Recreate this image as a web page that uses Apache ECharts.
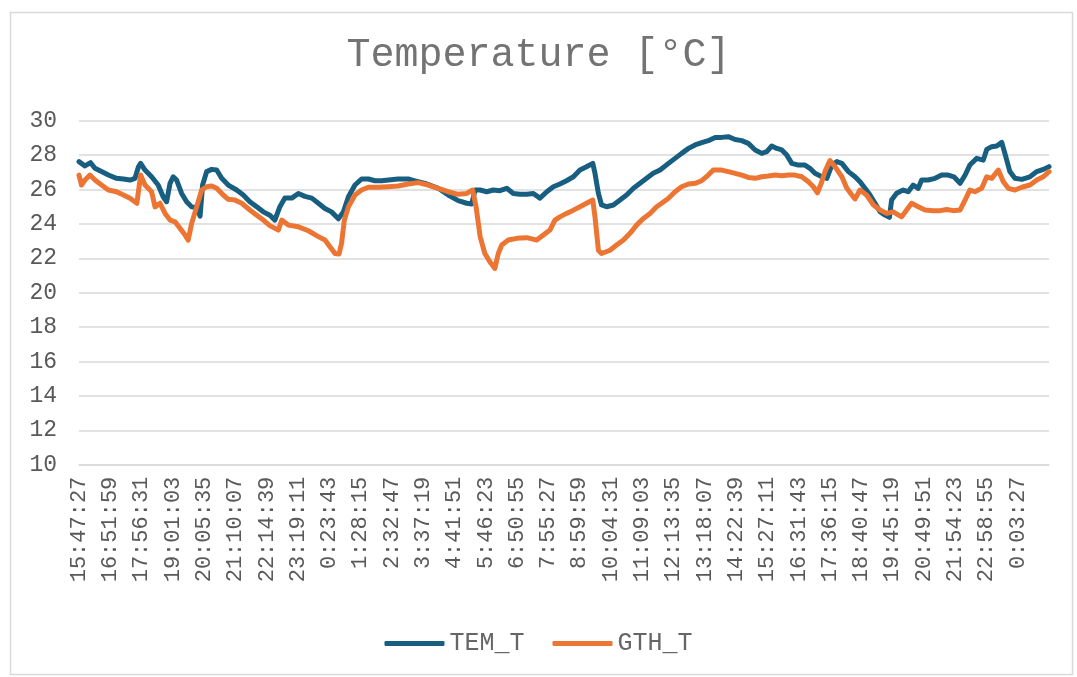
<!DOCTYPE html>
<html>
<head>
<meta charset="utf-8">
<script src="https://cdn.jsdelivr.net/npm/echarts@6/dist/echarts.min.js"></script>
<style>
html,body{margin:0;padding:0;background:#fff;}
#c{width:1077px;height:677px;}
</style>
</head>
<body>
<div id="c"></div>
<script>
// Tick labels (one every 1:04:32)
var tickLabels = ['15:47:27','16:51:59','17:56:31','19:01:03','20:05:35','21:10:07','22:14:39','23:19:11',
  '0:23:43','1:28:15','2:32:47','3:37:19','4:41:51','5:46:23','6:50:55','7:55:27','8:59:59','10:04:31',
  '11:09:03','12:13:35','13:18:07','14:22:39','15:27:11','16:31:43','17:36:15','18:40:47','19:45:19',
  '20:49:51','21:54:23','22:58:55','0:03:27'];

var seriesNames = ['TEM_T','GTH_T'];

// [position in tick intervals from 15:47:27, temperature]
var temT = [[0,27.62],[0.19,27.37],[0.37,27.56],[0.51,27.23],[0.72,27.04],[0.94,26.84],[1.20,26.65],[1.42,26.61],
[1.63,26.55],[1.79,26.65],[1.90,27.32],[1.97,27.52],[2.11,27.13],[2.32,26.74],[2.53,26.26],[2.69,25.58],[2.80,25.29],
[2.91,26.36],[3.01,26.74],[3.12,26.55],[3.28,25.77],[3.44,25.29],[3.60,24.99],[3.76,24.95],[3.87,24.45],[3.95,26.26],
[4.08,27.04],[4.24,27.17],[4.40,27.13],[4.56,26.65],[4.77,26.26],[5.04,25.97],[5.25,25.68],[5.46,25.29],[5.68,24.99],
[5.89,24.70],[6.10,24.50],[6.26,24.22],[6.42,25.0],[6.58,25.5],[6.80,25.5],[7.01,25.77],[7.22,25.6],[7.44,25.5],
[7.65,25.2],[7.86,24.9],[8.07,24.7],[8.29,24.3],[8.45,24.7],[8.61,25.58],[8.82,26.26],[9.03,26.61],[9.25,26.61],
[9.46,26.51],[9.67,26.51],[9.89,26.55],[10.20,26.61],[10.52,26.61],[10.74,26.5],[11.06,26.36],[11.48,26.07],
[11.80,25.68],[12.12,25.35],[12.39,25.2],[12.55,25.16],[12.66,25.97],[12.82,25.97],[13.03,25.87],[13.24,25.97],
[13.45,25.93],[13.67,26.07],[13.88,25.77],[14.09,25.73],[14.31,25.73],[14.52,25.77],[14.73,25.5],[14.95,25.87],
[15.16,26.16],[15.37,26.32],[15.58,26.51],[15.80,26.74],[16.01,27.13],[16.22,27.32],[16.42,27.52],[16.49,26.94],
[16.60,25.77],[16.70,25.1],[16.86,25.0],[17.08,25.1],[17.29,25.39],[17.50,25.68],[17.72,26.07],[17.93,26.36],
[18.14,26.65],[18.35,26.94],[18.57,27.13],[18.84,27.52],[19.05,27.81],[19.26,28.1],[19.48,28.39],[19.69,28.59],
[19.90,28.72],[20.11,28.84],[20.33,29.03],[20.54,29.03],[20.75,29.07],[20.97,28.91],[21.18,28.84],[21.39,28.68],
[21.61,28.3],[21.82,28.1],[21.98,28.2],[22.14,28.53],[22.30,28.39],[22.46,28.3],[22.62,28.0],[22.78,27.52],
[22.99,27.42],[23.20,27.42],[23.36,27.23],[23.52,26.94],[23.74,26.74],[23.90,26.65],[24.06,27.42],[24.22,27.62],
[24.38,27.52],[24.59,27.04],[24.80,26.74],[24.96,26.45],[25.12,26.07],[25.28,25.68],[25.44,25.2],[25.60,24.71],
[25.76,24.51],[25.90,24.38],[25.97,25.39],[26.13,25.78],[26.34,25.97],[26.50,25.87],[26.66,26.26],[26.82,26.07],
[26.93,26.55],[27.14,26.55],[27.36,26.65],[27.57,26.84],[27.78,26.84],[27.96,26.74],[28.16,26.36],[28.32,26.84],
[28.47,27.42],[28.69,27.81],[28.90,27.71],[29.01,28.33],[29.17,28.49],[29.33,28.53],[29.49,28.74],[29.59,28.1],
[29.75,27.04],[29.91,26.65],[30.13,26.59],[30.39,26.74],[30.61,27.04],[30.82,27.17],[31.0,27.33]];

var gthT = [[0,26.84],[0.08,26.26],[0.19,26.55],[0.35,26.84],[0.51,26.55],[0.72,26.26],[0.94,25.97],[1.20,25.87],
[1.42,25.68],[1.63,25.49],[1.85,25.20],[1.97,26.84],[2.11,26.26],[2.32,25.87],[2.43,24.99],[2.59,25.2],[2.75,24.61],
[2.91,24.22],[3.07,24.12],[3.23,23.74],[3.39,23.35],[3.49,23.06],[3.60,24.03],[3.76,24.99],[3.92,25.97],[4.08,26.16],
[4.24,26.2],[4.40,26.07],[4.61,25.68],[4.77,25.43],[4.98,25.39],[5.20,25.2],[5.46,24.81],[5.68,24.51],[5.89,24.22],
[6.10,23.9],[6.37,23.64],[6.48,24.22],[6.69,23.93],[7.01,23.83],[7.33,23.6],[7.65,23.26],[7.86,23.06],[8.02,22.67],
[8.18,22.28],[8.31,22.25],[8.39,22.86],[8.48,24.22],[8.61,24.99],[8.82,25.68],[9.03,25.97],[9.25,26.13],[9.57,26.13],
[9.89,26.16],[10.20,26.2],[10.52,26.32],[10.84,26.4],[11.16,26.26],[11.48,26.07],[11.80,25.87],[12.12,25.72],
[12.39,25.77],[12.58,25.97],[12.69,25.0],[12.82,23.26],[12.97,22.28],[13.13,21.8],[13.29,21.41],[13.40,22.28],
[13.51,22.77],[13.72,23.06],[13.99,23.16],[14.31,23.2],[14.63,23.06],[14.84,23.35],[15.05,23.64],[15.21,24.22],
[15.37,24.41],[15.58,24.61],[15.80,24.8],[16.01,25.0],[16.22,25.2],[16.42,25.39],[16.49,24.41],[16.60,22.47],
[16.70,22.28],[16.97,22.47],[17.18,22.77],[17.40,23.06],[17.61,23.45],[17.82,23.93],[18.04,24.32],[18.25,24.61],
[18.46,25.0],[18.62,25.2],[18.84,25.49],[19.05,25.87],[19.26,26.16],[19.48,26.32],[19.69,26.36],[19.90,26.51],
[20.11,26.84],[20.27,27.13],[20.54,27.13],[20.75,27.04],[20.97,26.94],[21.18,26.84],[21.39,26.7],[21.61,26.65],
[21.82,26.74],[22.03,26.78],[22.25,26.84],[22.46,26.8],[22.67,26.84],[22.88,26.84],[23.10,26.74],[23.31,26.45],
[23.47,26.16],[23.60,25.81],[23.74,26.45],[23.84,27.04],[24.00,27.68],[24.16,27.33],[24.38,26.74],[24.54,26.07],
[24.70,25.68],[24.80,25.45],[24.96,25.97],[25.17,25.68],[25.39,25.1],[25.60,24.81],[25.81,24.61],[26.02,24.7],
[26.29,24.41],[26.45,24.81],[26.61,25.2],[26.82,25.0],[27.04,24.81],[27.30,24.77],[27.52,24.77],[27.73,24.84],
[27.94,24.77],[28.16,24.81],[28.32,25.39],[28.47,25.97],[28.63,25.87],[28.85,26.07],[29.01,26.74],[29.17,26.65],
[29.38,27.13],[29.54,26.45],[29.70,26.07],[29.91,25.97],[30.13,26.13],[30.39,26.26],[30.61,26.55],[30.82,26.74],
[31.0,27.04]];

var chart = echarts.init(document.getElementById('c'), null, {renderer:'canvas'});
var mono = '"Liberation Mono", "DejaVu Sans Mono", monospace';
chart.setOption({
  backgroundColor: '#ffffff',
  animation: false,
  graphic: [{
    type: 'rect', left: 8, top: 10, z: -1,
    shape: {width: 1062, height: 662},
    style: {fill: 'none', stroke: '#d9d9d9', lineWidth: 1.5}
  }],
  title: {
    text: 'Temperature [°C]',
    left: 'center', top: 30,
    textStyle: {fontFamily: mono, fontSize: 40, fontWeight: 'normal', color: '#737373'}
  },
  legend: {
    data: seriesNames,
    left: 'center', top: 626,
    icon: 'roundRect', itemWidth: 60, itemHeight: 5, itemGap: 28,
    textStyle: {fontFamily: mono, fontSize: 25, color: '#666666'}
  },
  grid: {left: 79, right: 28, top: 120.7, bottom: 212.3, containLabel: false},
  xAxis: {
    type: 'value', min: 0, max: 31, interval: 1,
    axisLine: {show: true, lineStyle: {color: '#d9d9d9', width: 1.5}},
    axisTick: {show: false},
    splitLine: {show: false},
    axisLabel: {
      rotate: 90, margin: 12, color: '#595959', fontFamily: mono, fontSize: 22,
      hideOverlap: false, showMaxLabel: false,
      formatter: function (v) { var k = Math.round(v); return tickLabels[k] || ''; }
    }
  },
  yAxis: {
    type: 'value', min: 10, max: 30, interval: 2,
    axisLine: {show: false}, axisTick: {show: false},
    splitLine: {lineStyle: {color: '#d9d9d9', width: 1.5}},
    axisLabel: {margin: 22, color: '#595959', fontFamily: mono, fontSize: 23}
  },
  series: [
    {name: seriesNames[0], type: 'line', data: temT, showSymbol: false, symbol: 'none',
     lineStyle: {color: '#175e80', width: 5, cap: 'round', join: 'round'}, itemStyle: {color: '#175e80'}},
    {name: seriesNames[1], type: 'line', data: gthT, showSymbol: false, symbol: 'none',
     lineStyle: {color: '#ed7533', width: 5, cap: 'round', join: 'round'}, itemStyle: {color: '#ed7533'}}
  ]
});
</script>
</body>
</html>
